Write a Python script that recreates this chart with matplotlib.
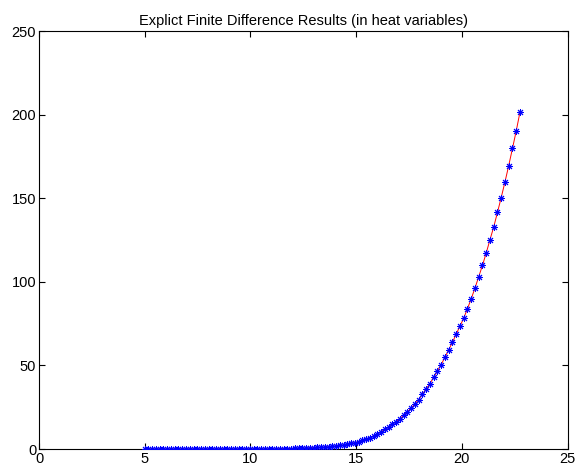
import numpy as np
import matplotlib
matplotlib.use("Agg")
import matplotlib.pyplot as plt

plt.rcParams["font.family"] = ["Liberation Sans", "DejaVu Sans"]

# grid in x (uniform mesh, 100 steps) and the computed solution on it
x_first, x_last, n_steps = 5.0, 22.75, 100
x = np.linspace(x_first, x_last, n_steps + 1)

u = [0.0] * 36 + [
    0.1, 0.2, 0.2, 0.3, 0.4, 0.5, 0.5, 0.6, 0.7, 0.8,
    0.9, 1.0, 1.1, 1.3, 1.5, 1.8, 2.1, 2.4, 2.8, 3.3,
    3.8, 4.4, 5.1, 5.8, 6.8, 7.9, 8.9, 10.3, 11.7, 13.1,
    14.8, 16.4, 18.2, 20.2, 22.2, 24.5, 27.0, 29.6, 32.7, 35.9,
    39.1, 42.9, 46.7, 50.5, 54.9, 59.3, 63.8, 68.7, 73.5, 78.2,
    83.9, 89.8, 96.2, 103.0, 109.8, 117.2, 125.1, 132.8, 141.5, 150.4,
    159.7, 169.5, 179.8, 190.2, 201.5,
]

x_ticks = [0, 5, 10, 15, 20, 25]
y_ticks = [0, 50, 100, 150, 200, 250]

fig = plt.figure(figsize=(5.78, 4.65), dpi=100)
ax = fig.add_axes([0.0675, 0.0344, 0.9144, 0.8989])

ax.plot(x, u, "-", color="red", lw=0.7, zorder=2)
ax.plot(x, u, linestyle="none", marker=(8, 2, 0), markersize=5,
        markeredgecolor="blue", markeredgewidth=0.7, color="blue", zorder=3)

ax.set_xlim(0, 25)
ax.set_ylim(0, 250)
ax.set_xticks(x_ticks)
ax.set_yticks(y_ticks)
ax.tick_params(direction="in", length=4, width=0.8, top=True, right=True,
               labelsize=10.5, pad=2)
for s in ax.spines.values():
    s.set_linewidth(0.8)
ax.set_title("Explict Finite Difference Results (in heat variables)",
             fontsize=10.5, pad=4)

fig.savefig("out.png", dpi=100)
